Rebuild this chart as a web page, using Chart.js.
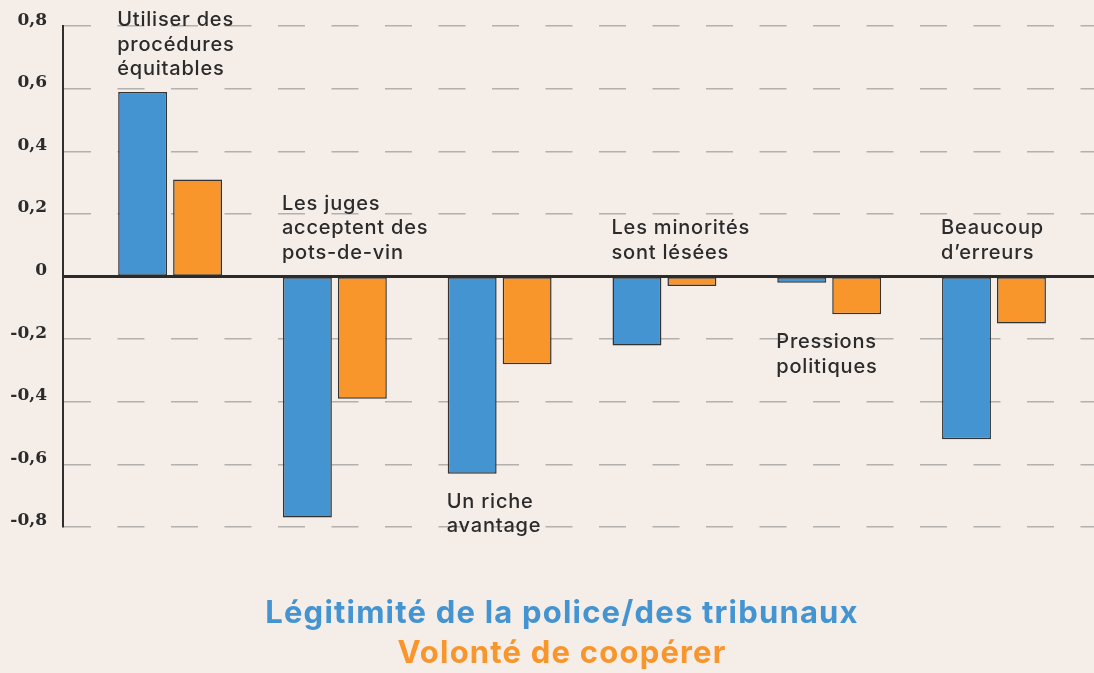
<!DOCTYPE html>
<html lang="fr">
<head>
  <meta charset="UTF-8" />
  <title>Légitimité et coopération</title>
  <script src="https://cdn.jsdelivr.net/npm/chart.js"></script>
  <style>
    body {
      margin: 0;
      background: #f4ede8;
    }
    #chartContainer {
      width: 1094px;
      height: 673px;
    }
  </style>
</head>
<body>
  <div id="chartContainer">
    <canvas id="barChart"></canvas>
  </div>

  <script>
    // categories, one entry per group, split into the lines shown on the chart
    const categories = [
      ["Utiliser des", "procédures", "équitables"],
      ["Les juges", "acceptent des", "pots-de-vin"],
      ["Un riche", "avantage"],
      ["Les minorités", "sont lésées"],
      ["Pressions", "politiques"],
      ["Beaucoup", "d\u2019erreurs"]
    ];
    const seriesNames = ["Légitimité de la police/des tribunaux", "Volonté de coopérer"];
    const legitimacy = [0.59, -0.77, -0.63, -0.22, -0.02, -0.52];
    const cooperation = [0.31, -0.39, -0.28, -0.03, -0.12, -0.15];
    const yTickLabels = ["-0,8", "-0,6", "-0,4", "-0,2", "0", "0,2", "0,4", "0,6", "0,8"];
    // where each category label sits relative to its bars
    const labelPlacement = ["top", "above", "below", "above", "below", "above"];

    const BLUE = "#4394d1";
    const ORANGE = "#f8962c";
    const INK = "#2b2b2b";

    const toPoints = (values) => values.map((v, i) => ({ x: i, y: v }));

    const annotations = {
      id: "annotations",
      afterDatasetsDraw(chart) {
        const { ctx, chartArea, scales } = chart;
        const zeroY = scales.y.getPixelForValue(0);

        // zero line
        ctx.save();
        ctx.strokeStyle = INK;
        ctx.lineWidth = 3;
        ctx.beginPath();
        ctx.moveTo(chartArea.left, zeroY);
        ctx.lineTo(chartArea.right, zeroY);
        ctx.stroke();

        // category labels next to the bars
        const blueBars = chart.getDatasetMeta(0).data;
        const orangeBars = chart.getDatasetMeta(1).data;
        ctx.font = "500 20px Inter";
        ctx.letterSpacing = "0.8px";
        ctx.fillStyle = INK;
        ctx.textAlign = "left";
        ctx.textBaseline = "alphabetic";
        const lineH = 24.5;
        categories.forEach((lines, i) => {
          const b = blueBars[i];
          const left = b.x - b.width / 2 - 1;
          let firstBase;
          if (labelPlacement[i] === "top") {
            firstBase = chartArea.top;
          } else if (labelPlacement[i] === "above") {
            firstBase = zeroY - 18 - lineH * (lines.length - 1);
          } else {
            const low = Math.max(b.y, orangeBars[i].y);
            firstBase = low + 34;
          }
          lines.forEach((t, k) => ctx.fillText(t, left, firstBase + k * lineH));
        });
        ctx.restore();
      },
      afterDraw(chart) {
        const { ctx } = chart;
        ctx.save();
        ctx.font = "700 31px Inter";
        ctx.letterSpacing = "1.2px";
        ctx.textAlign = "center";
        ctx.textBaseline = "alphabetic";
        chart.data.datasets.forEach((ds, i) => {
          ctx.fillStyle = ds.backgroundColor;
          ctx.fillText(ds.label, 562, 623 + i * 40);
        });
        ctx.restore();
      }
    };

    const ctx = document.getElementById("barChart").getContext("2d");
    new Chart(ctx, {
      type: "bar",
      data: {
        datasets: [
          {
            label: seriesNames[0],
            data: toPoints(legitimacy),
            backgroundColor: BLUE,
            borderColor: "#333333",
            borderWidth: 1.5,
            borderSkipped: false
          },
          {
            label: seriesNames[1],
            data: toPoints(cooperation),
            backgroundColor: ORANGE,
            borderColor: "#333333",
            borderWidth: 1.5,
            borderSkipped: false
          }
        ]
      },
      options: {
        responsive: true,
        maintainAspectRatio: false,
        animation: false,
        categoryPercentage: 0.667,
        barPercentage: 0.89,
        layout: { padding: { top: 26, right: 0, bottom: 146, left: 0 } },
        scales: {
          x: {
            type: "linear",
            display: false,
            offset: false,
            min: -0.65,
            max: 5.607,
            ticks: { stepSize: 1, includeBounds: false }
          },
          y: {
            min: -0.8,
            max: 0.8,
            afterFit: (scale) => { scale.width = 63; },
            ticks: {
              stepSize: 0.2,
              padding: 16,
              labelOffset: -6,
              color: INK,
              font: { family: "DejaVu Serif", weight: "bold", size: 17 },
              callback: (value) => yTickLabels[Math.round((value + 0.8) / 0.2)]
            },
            grid: {
              drawTicks: false,
              lineWidth: 1.5,
              color: (c) => (c.tick && Math.abs(c.tick.value) < 1e-6 ? "transparent" : "#b3b0ad")
            },
            border: {
              display: true,
              color: "#2f2f2f",
              width: 2,
              dash: [27, 26.5]
            }
          }
        },
        plugins: {
          legend: { display: false },
          tooltip: { enabled: false }
        }
      },
      plugins: [annotations]
    });
  </script>
</body>
</html>
